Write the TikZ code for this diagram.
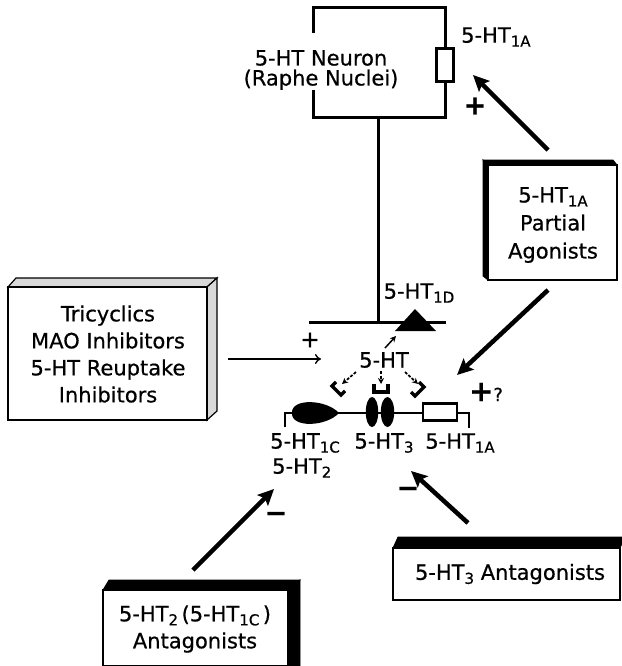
\documentclass[tikz,border=0pt]{standalone}
\usepackage{fontspec}
\setmainfont{DejaVu Sans}[FakeBold=0.6]
\usetikzlibrary{arrows.meta}
\newcommand\lsub[1]{\raisebox{-0.35ex}{\fontsize{15}{15}\selectfont #1}}
\tikzset{
  lbl/.style={inner sep=0pt, font=\fontsize{21}{24}\selectfont},
  bigarrow/.style={line width=4.5pt, -{Stealth[length=16pt,width=15pt,inset=3pt]}},
  thinarrow/.style={line width=1.4pt, -{To[length=6pt,width=10pt]}},
  dasharrow/.style={line width=1.7pt, dash pattern=on 3pt off 1.5pt, -{Stealth[length=6pt,width=6pt]}},
  facebox/.style={draw, line width=1.5pt, fill=white, anchor=north west, inner sep=0pt, outer sep=0pt},
  blackface/.style={fill=black, draw=black, line width=0.8pt},
  grayface/.style={fill=gray!30, draw=black, line width=1.2pt},
  neuron/.style={line width=3pt},
  bracket/.style={line width=3.2pt},
  membrane/.style={line width=2.6pt},
  plusbold/.style={inner sep=0pt, font=\fontsize{27}{27}\selectfont\bfseries},
  plusthin/.style={inner sep=0pt, font=\fontsize{23}{23}\selectfont},
}
\begin{document}
\begin{tikzpicture}[x=1pt,y=-1pt]
\useasboundingbox (0,0) rectangle (621,666);

% ---------- neuron ----------
\draw[neuron] (313,33) -- (313,8) -- (445,8) -- (445,48);
\draw[neuron] (445,82) -- (445,118) -- (313,118) -- (313,90);
\node[draw, line width=2.6pt, minimum width=17pt, minimum height=33pt, inner sep=0pt] (r1a) at (445,65) {};
\node[lbl, align=center, font=\fontsize{21}{20}\selectfont] (neurontxt) at (321,70) {5-HT Neuron\\(Raphe Nuclei)};
\node[lbl, anchor=west] (lab1a) at (461,37) {5-HT\lsub{1A}};
\node[plusbold] (plus1) at (475,106) {+};
\coordinate (axtop) at (378,118);
\coordinate (axbot) at (378,322);
\draw[neuron] (axtop) -- (axbot);
\coordinate (termL) at (309,322);
\coordinate (termR) at (446,322);
\draw[neuron] (termL) -- (termR);
\fill (395,331) -- (415,309) -- (436,331) -- cycle;
\coordinate (tri) at (396,336);
\node[lbl] (lab1d) at (419,293) {5-HT\lsub{1D}};

% ---------- 5-HT and small arrows ----------
\node[lbl] (sht) at (384,360) {5-HT};
\draw[line width=1.5pt, -{Stealth[length=6pt,width=6pt]}] (385,348) -- (tri);
\coordinate (bL) at (342,384);
\coordinate (bM) at (381,384);
\coordinate (bR) at (418,384);
\draw[dasharrow] (356,372) -- (bL);
\draw[dasharrow] (381,371) -- (bM);
\draw[dasharrow] (405,372) -- (bR);
% binding brackets
\draw[bracket] (336,382) -- (332,386) -- (341,395) -- (345,391);
\draw[bracket] (374,384) -- (374,392) -- (388,392) -- (388,384);
\draw[bracket] (419,382) -- (424,387) -- (415,396) -- (411,392);

% ---------- postsynaptic membrane ----------
\draw[membrane] (285,427) -- (285,413) -- (469,413) -- (469,428);
\fill (292,413) .. controls (291,398) and (326,399) .. (339,413) .. controls (326,427) and (291,428) .. (292,413) -- cycle;
\fill (372,412) ellipse [x radius=6.2pt, y radius=15pt];
\fill (387.5,412) ellipse [x radius=6.7pt, y radius=15pt];
\node[draw, line width=2.4pt, fill=white, minimum width=34pt, minimum height=17pt, inner sep=0pt] (post1a) at (440,412) {};
\node[inner sep=0pt] (plusq) at (486,392) {\fontsize{29}{29}\selectfont\bfseries +\fontsize{18}{18}\selectfont\mdseries ?};
\node[lbl] (lab1c) at (305,443) {5-HT\lsub{1C}};
\node[lbl, anchor=west] (lab2) at (272,468) {5-HT\lsub{2}};
\node[lbl] (lab3) at (384,443) {5-HT\lsub{3}};
\node[lbl] (lab1ab) at (460,443) {5-HT\lsub{1A}};

% ---------- partial agonists box ----------
\fill[blackface] (488,165) -- (617,165) -- (613,160) -- (483,160) -- cycle;
\fill[blackface] (488,165) -- (483,160) -- (483,276) -- (488,280) -- cycle;
\node[facebox, minimum width=129pt, minimum height=115pt] (pabox) at (488,165) {};
\node[lbl, align=center, font=\fontsize{21}{28}\selectfont] (patxt) at (553,225) {5-HT\lsub{1A}\\Partial\\Agonists};

% ---------- tricyclics box ----------
\filldraw[grayface] (8,287) -- (16,278) -- (217,278) -- (207,287) -- cycle;
\filldraw[grayface] (207,287) -- (217,278) -- (217,411) -- (207,420) -- cycle;
\node[facebox, minimum width=199pt, minimum height=133pt] (tribox) at (8,287) {};
\node[lbl, align=center, font=\fontsize{21}{27}\selectfont] (tritxt) at (108,354) {Tricyclics\\MAO Inhibitors\\5-HT Reuptake\\Inhibitors};

% ---------- 5-HT2 antagonists box ----------
\fill[blackface] (103,590) -- (109,580) -- (300,580) -- (288,590) -- cycle;
\fill[blackface] (288,590) -- (300,580) -- (300,670) -- (288,670) -- cycle;
\node[facebox, minimum width=185pt, minimum height=76pt] (a2box) at (103,590) {};
\node[lbl, align=center, font=\fontsize{21}{27}\selectfont] (a2txt) at (195,629) {5-HT\lsub{2}\,(5-HT\lsub{1C}\,)\\Antagonists};

% ---------- 5-HT3 antagonists box ----------
\fill[blackface] (393,548) -- (398,537) -- (625,537) -- (620,548) -- cycle;
\node[facebox, minimum width=227pt, minimum height=52pt] (a3box) at (393,548) {};
\node[lbl] (a3txt) at (510,574) {5-HT\lsub{3} Antagonists};

% ---------- arrows ----------
\coordinate (paTop) at (548,150);
\coordinate (tip1a) at (473,75);
\draw[bigarrow] (paTop) -- (tip1a);
\coordinate (paBot) at (548,290);
\coordinate (tipSyn) at (457,375);
\draw[bigarrow] (paBot) -- (tipSyn);
\coordinate (triStart) at (228,359);
\coordinate (triEnd) at (321,359);
\draw[thinarrow] (triStart) -- (triEnd);
\node[plusthin] (plus2) at (310,340) {+};
\coordinate (a2Start) at (193,570);
\coordinate (a2Tip) at (274,489);
\draw[bigarrow] (a2Start) -- (a2Tip);
\node[plusbold] (minus1) at (276,517) {−};
\coordinate (a3Start) at (468,523);
\coordinate (a3Tip) at (411,471);
\draw[bigarrow] (a3Start) -- (a3Tip);
\node[plusbold] (minus2) at (408,492) {−};
\end{tikzpicture}
\end{document}
